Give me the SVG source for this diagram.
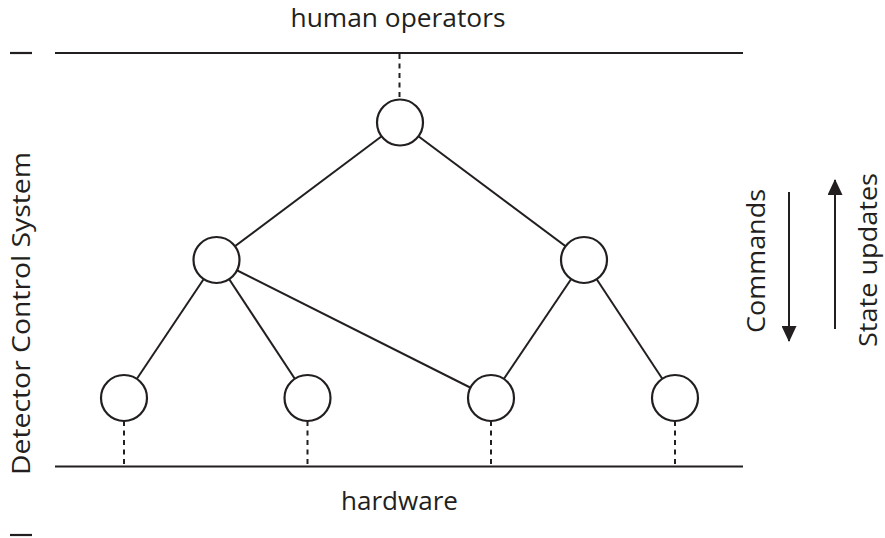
<svg xmlns="http://www.w3.org/2000/svg" width="885" height="538" viewBox="0 0 885 538">
  <style>
    .rule { stroke: #231f20; stroke-width: 2.2; fill: none; }
    .edge { stroke: #231f20; stroke-width: 2; fill: none; }
    .link { stroke: #231f20; stroke-width: 2; stroke-dasharray: 5 4.5; fill: none; }
    .node { fill: #ffffff; stroke: #231f20; stroke-width: 2.2; }
    .label { font-family: "Open Sans", "Noto Sans", sans-serif; font-size: 26px; fill: #231f20; text-anchor: middle; }
  </style>
  <defs>
    <marker id="head" viewBox="0 0 16 15" refX="15" refY="7.5" markerWidth="16" markerHeight="15" markerUnits="userSpaceOnUse" orient="auto">
      <path d="M0,0 L16,7.5 L0,15 Z" fill="#231f20"/>
    </marker>
  </defs>

  <!-- boundary rules and tick marks -->
  <g id="bounds">
    <line class="rule" x1="55" y1="53" x2="743" y2="53"/>
    <line class="rule" x1="55" y1="466.5" x2="743" y2="466.5"/>
    <line class="rule" x1="10" y1="53" x2="32" y2="53"/>
    <line class="rule" x1="10" y1="535" x2="32" y2="535"/>
  </g>

  <!-- tree edges and dashed interface links -->
  <g id="connectors">
    <line class="edge" x1="400" y1="122.5" x2="216.5" y2="260"/>
    <line class="edge" x1="400" y1="122.5" x2="584" y2="260"/>
    <line class="edge" x1="216.5" y1="260" x2="124" y2="398"/>
    <line class="edge" x1="216.5" y1="260" x2="307.5" y2="398"/>
    <line class="edge" x1="216.5" y1="260" x2="491" y2="398"/>
    <line class="edge" x1="584" y1="260" x2="491" y2="398"/>
    <line class="edge" x1="584" y1="260" x2="675" y2="398"/>
    <line class="link" x1="399.5" y1="54" x2="399.5" y2="100"/>
    <line class="link" x1="124" y1="421" x2="124" y2="466"/>
    <line class="link" x1="307.5" y1="421" x2="307.5" y2="466"/>
    <line class="link" x1="491" y1="421" x2="491" y2="466"/>
    <line class="link" x1="675" y1="421" x2="675" y2="466"/>
  </g>

  <g id="n-root"><circle class="node" cx="400" cy="122.5" r="23"/></g>
  <g id="n-mid-left"><circle class="node" cx="216.5" cy="260" r="23"/></g>
  <g id="n-mid-right"><circle class="node" cx="584" cy="260" r="23"/></g>
  <g id="n-leaf-1"><circle class="node" cx="124" cy="398" r="23"/></g>
  <g id="n-leaf-2"><circle class="node" cx="307.5" cy="398" r="23"/></g>
  <g id="n-leaf-3"><circle class="node" cx="491" cy="398" r="23"/></g>
  <g id="n-leaf-4"><circle class="node" cx="675" cy="398" r="23"/></g>

  <!-- direction arrows -->
  <g id="flow">
    <line class="edge" x1="789" y1="192" x2="789" y2="341" marker-end="url(#head)"/>
    <line class="edge" x1="835" y1="329" x2="835" y2="180" marker-end="url(#head)"/>
  </g>

  <!-- labels -->
  <g id="labels">
    <text class="label" x="398" y="27" textLength="215" lengthAdjust="spacingAndGlyphs">human operators</text>
    <text class="label" x="399.5" y="510" textLength="117" lengthAdjust="spacingAndGlyphs">hardware</text>
    <text class="label" transform="translate(30,313.5) rotate(-90)" textLength="323" lengthAdjust="spacingAndGlyphs">Detector Control System</text>
    <text class="label" transform="translate(765,261) rotate(-90)" textLength="144" lengthAdjust="spacingAndGlyphs">Commands</text>
    <text class="label" transform="translate(877,260) rotate(-90)" textLength="174" lengthAdjust="spacingAndGlyphs">State updates</text>
  </g>
</svg>
